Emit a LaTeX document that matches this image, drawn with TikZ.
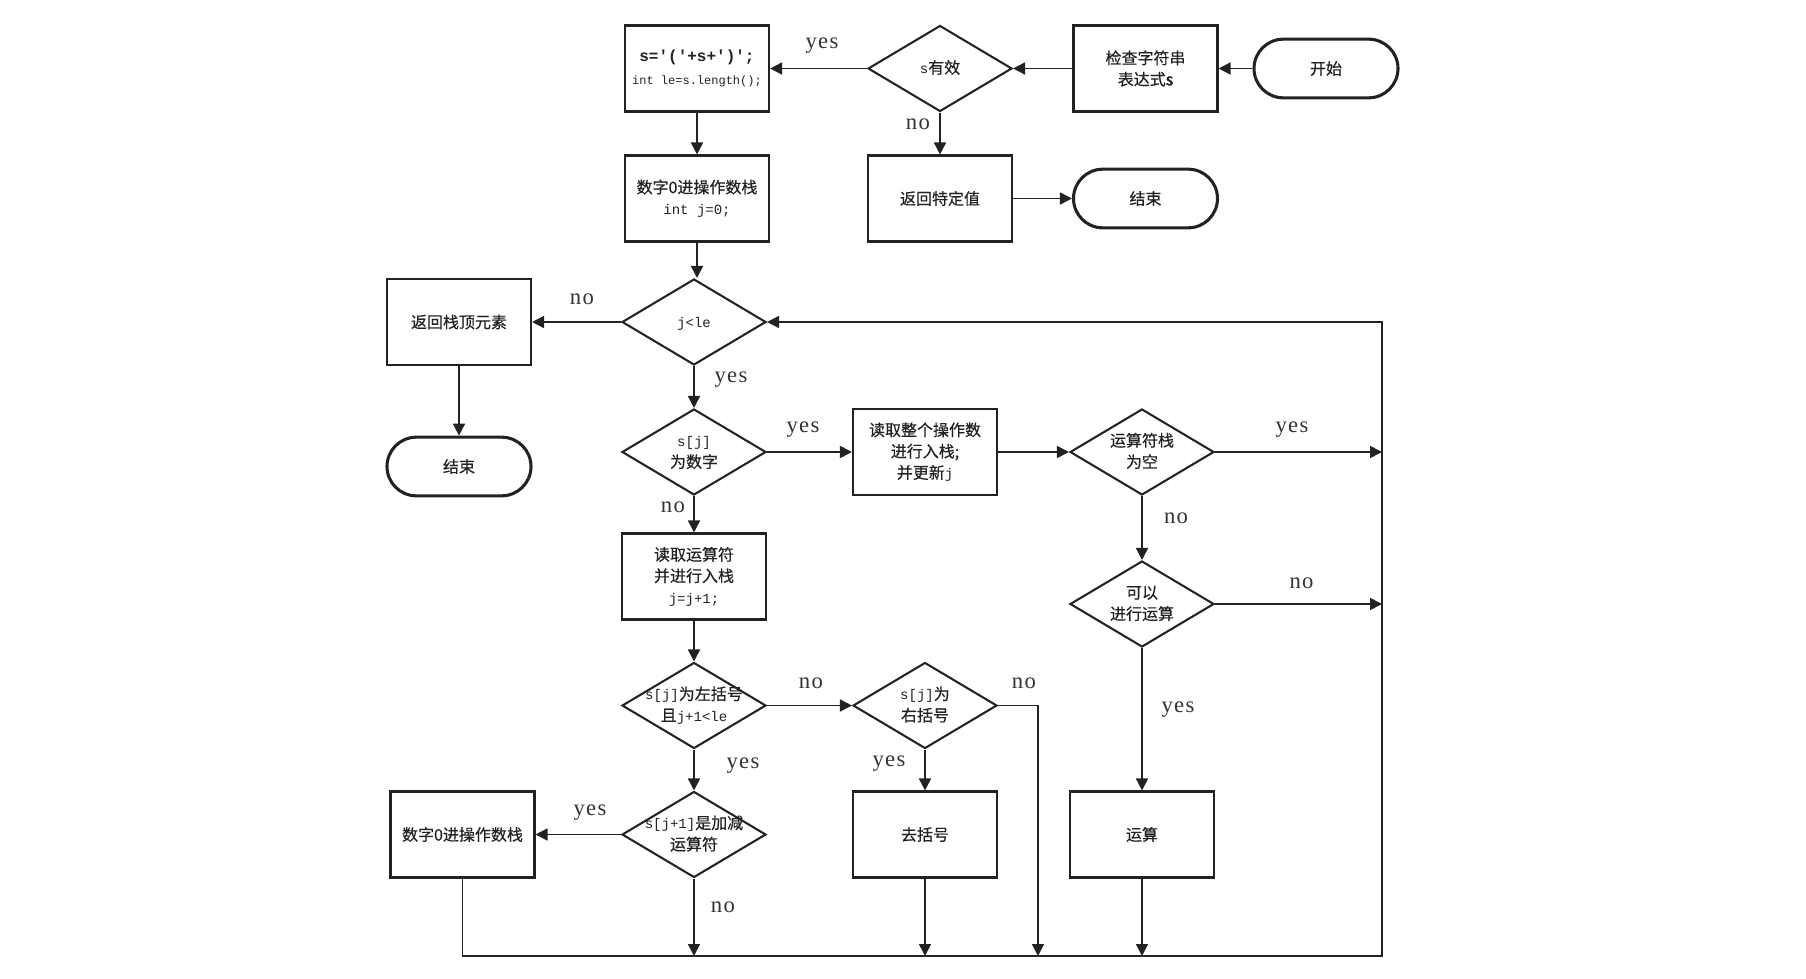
\documentclass[tikz,border=0pt]{standalone}
\usepackage{fontspec}
\setmainfont{Liberation Serif}
\setmonofont{Liberation Mono}
\newfontfamily\cjk[FakeBold=0.5]{Noto Sans CJK SC}
\newfontfamily\cjkb[FakeBold=2.5]{Noto Sans CJK SC}
\newfontfamily\lab[LetterSpace=6]{Liberation Serif}
\usetikzlibrary{shapes.geometric,shapes.misc,arrows.meta}
\definecolor{ink}{HTML}{222222}
\definecolor{labc}{HTML}{333333}
\newcommand{\dt}[1]{\makebox[0pt]{\smash{\raisebox{-.3em}{\begin{tabular}{@{}c@{}}#1\end{tabular}}}}}
\newcommand{\mono}[1]{{\ttfamily\fontsize{10.5}{15}\selectfont #1}}
\begin{document}
\begin{tikzpicture}[x=0.75pt,y=-0.75pt,
  box/.style={draw=ink, line width=1.55pt, rectangle, minimum width=108pt, minimum height=64.5pt, inner sep=0pt, align=center, text=ink, font=\cjk\fontsize{12}{16}\selectfont},
  dia/.style={draw=ink, line width=1.55pt, diamond, minimum width=108pt, minimum height=64.5pt, inner sep=0pt, text=ink, font=\cjk\fontsize{12}{16}\selectfont},
  term/.style={draw=ink, line width=2.3pt, rounded rectangle, minimum width=108pt, minimum height=44pt, inner sep=0pt, text=ink, font=\cjk\fontsize{12}{16}\selectfont},
  ln/.style={draw=ink, line width=1.2pt},
  arr/.style={ln, -{Triangle[length=9pt,width=9pt]}},
  lb/.style={text=labc, font=\lab\fontsize{17}{20}\selectfont, inner sep=0pt}
]
\useasboundingbox (0,0) rectangle (1806,978);

% nodes
\node[box] (init) at (697,68.5) {{\ttfamily\bfseries\fontsize{12}{15}\selectfont s='('+s+')';}\\[1pt]{\ttfamily\fontsize{9}{12}\selectfont int le=s.length();}};
\node[dia] (valid) at (940,68.5) {\dt{\mono{s}有效}};
\node[box] (check) at (1145.5,68.5) {检查字符串\\表达式{\cjkb s}};
\node[term] (start) at (1326,68.5) {开始};
\node[box] (push0) at (697,198.5) {数字0进操作数栈\\\mono{int j=0;}};
\node[box] (retv) at (940,198.5) {返回特定值};
\node[term] (end1) at (1145.5,198.5) {结束};
\node[dia] (jle) at (694,322) {\dt{\mono{j<le}}};
\node[box] (rettop) at (459,322) {返回栈顶元素};
\node[term] (end2) at (459,466.5) {结束};
\node[dia] (isnum) at (694,452) {\dt{\mono{s[j]}\\为数字}};
\node[box] (readnum) at (925,452) {读取整个操作数\\进行入栈;\\并更新\mono{j}};
\node[dia] (opempty) at (1142,452) {\dt{运算符栈\\为空}};
\node[box] (readop) at (694,576.5) {读取运算符\\并进行入栈\\\mono{j=j+1;}};
\node[dia] (cancalc) at (1142,604) {\dt{可以\\进行运算}};
\node[dia] (lpar) at (694,705.5) {\dt{\mono{s[j]}为左括号\\且\mono{j+1<le}}};
\node[dia] (rpar) at (925,705.5) {\dt{\mono{s[j]}为\\右括号}};
\node[box] (push0b) at (462.5,834.5) {数字0进操作数栈};
\node[dia] (pm) at (694,834.5) {\dt{\mono{s[j+1]}是加减\\运算符}};
\node[box] (rmpar) at (925,834.5) {去括号};
\node[box] (calc) at (1142,834.5) {运算};

% helper coordinates
\coordinate (br) at (1382,956);
\coordinate (tr) at (1382,322);
\coordinate (r1) at (1382,452);
\coordinate (r2) at (1382,604);
\coordinate (b1) at (694,956);
\coordinate (b2) at (925,956);
\coordinate (b3) at (1038,956);
\coordinate (b4) at (1142,956);

% connectors
\draw[arr] (start) -- (check);
\draw[arr] (check) -- (valid);
\draw[arr] (valid) -- (init);
\draw[arr] (valid) -- (retv);
\draw[arr] (retv) -- (end1);
\draw[arr] (init) -- (push0);
\draw[arr] (push0.south) -- (push0.south |- jle.north);
\draw[arr] (jle) -- (rettop);
\draw[arr] (rettop) -- (end2);
\draw[arr] (jle) -- (isnum);
\draw[arr] (isnum) -- (readnum);
\draw[arr] (readnum) -- (opempty);
\draw[arr] (opempty.east) -- (r1);
\draw[arr] (opempty) -- (cancalc);
\draw[arr] (cancalc.east) -- (r2);
\draw[arr] (cancalc) -- (calc);
\draw[arr] (isnum) -- (readop);
\draw[arr] (readop) -- (lpar);
\draw[arr] (lpar) -- (rpar);
\draw[arr] (lpar) -- (pm);
\draw[arr] (rpar) -- (rmpar);
\draw[arr] (rpar.east) -| (b3);
\draw[arr] (pm) -- (push0b);
\draw[arr] (pm.south) -- (b1);
\draw[arr] (rmpar.south) -- (b2);
\draw[arr] (calc.south) -- (b4);
\draw[arr] (push0b.south) |- (br) -- (tr) -- (jle.east);

% labels
\node[lb] (l1) at (822,46) {yes};
\node[lb] (l2) at (918,124) {no};
\node[lb] (l3) at (582,299.5) {no};
\node[lb] (l4) at (731,380) {yes};
\node[lb] (l5) at (803,430) {yes};
\node[lb] (l6) at (1292,430) {yes};
\node[lb] (l7) at (673,507) {no};
\node[lb] (l8) at (1176,518) {no};
\node[lb] (l9) at (1301.5,583) {no};
\node[lb] (l10) at (811,683) {no};
\node[lb] (l11) at (1024,683) {no};
\node[lb] (l12) at (743,766) {yes};
\node[lb] (l13) at (889,763.5) {yes};
\node[lb] (l14) at (1178,709.5) {yes};
\node[lb] (l15) at (590,813) {yes};
\node[lb] (l16) at (723,907.5) {no};
\end{tikzpicture}
\end{document}
